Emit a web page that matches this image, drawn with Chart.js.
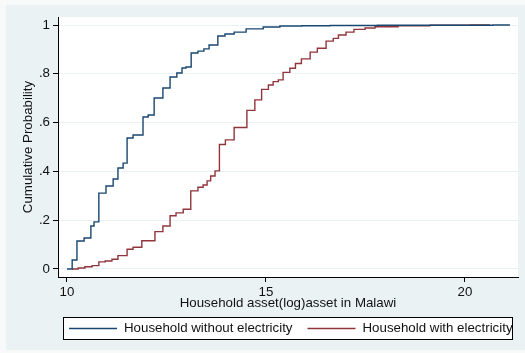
<!DOCTYPE html>
<html>
<head>
<meta charset="utf-8">
<style>
  html, body { margin: 0; padding: 0; background: #ffffff; }
  canvas { display: block; }
</style>
<script src="https://cdn.jsdelivr.net/npm/chart.js@4/dist/chart.umd.min.js"></script>
</head>
<body>
<canvas id="cdf" width="525" height="353"></canvas>
<script>
// Empirical CDF of log household assets, by electricity access
const withoutElecAsset = [10.00, 10.13, 10.25, 10.43, 10.60, 10.68, 10.80, 10.98, 11.16, 11.28, 11.41, 11.51, 11.66, 11.91, 12.04, 12.19, 12.41, 12.59, 12.76, 12.89, 12.99, 13.12, 13.29, 13.44, 13.57, 13.79, 13.97, 14.20, 14.50, 14.93, 15.35, 15.90, 16.61, 17.80, 20.70, 21.13];
const withoutElecCdf   = [0, 0.037, 0.115, 0.127, 0.176, 0.193, 0.311, 0.340, 0.369, 0.414, 0.434, 0.537, 0.549, 0.623, 0.631, 0.701, 0.742, 0.787, 0.803, 0.824, 0.828, 0.885, 0.893, 0.902, 0.918, 0.955, 0.963, 0.971, 0.984, 0.992, 0.996, 0.997, 0.998, 0.999, 1.0, 1.0];

const withElecAsset = [10.13, 10.28, 10.45, 10.63, 10.80, 10.96, 11.13, 11.28, 11.51, 11.66, 11.88, 12.21, 12.41, 12.59, 12.74, 12.92, 13.11, 13.29, 13.42, 13.52, 13.61, 13.72, 13.83, 13.98, 14.20, 14.52, 14.72, 14.89, 15.06, 15.18, 15.31, 15.43, 15.60, 15.74, 15.89, 16.11, 16.29, 16.51, 16.69, 16.82, 17.01, 17.21, 17.49, 17.74, 18.32, 19.12, 20.13, 20.63];
const withElecCdf   = [0, 0.004, 0.009, 0.014, 0.029, 0.033, 0.040, 0.055, 0.081, 0.089, 0.116, 0.153, 0.176, 0.218, 0.230, 0.245, 0.320, 0.335, 0.344, 0.361, 0.381, 0.402, 0.510, 0.529, 0.580, 0.650, 0.693, 0.736, 0.754, 0.768, 0.775, 0.806, 0.823, 0.842, 0.861, 0.889, 0.905, 0.934, 0.945, 0.959, 0.971, 0.982, 0.988, 0.993, 0.997, 0.999, 1.0, 1.0];

const seriesNames = ['Household without electricity', 'Household with electricity'];
const xTickValues = [10, 15, 20];
const yTickValues = [0, 0.2, 0.4, 0.6, 0.8, 1];
const yTickLabels = ['0', '.2', '.4', '.6', '.8', '1'];
const xTitle = 'Household asset(log)asset in Malawi';
const yTitle = 'Cumulative Probability';

const FONT = "'Liberation Sans', Arial, sans-serif";
const INK = '#111111';
const BLUE = '#1a476f';
const RED = '#90353b';
const REGION = '#eaf2f3';

const toPoints = (xs, ys) => xs.map((x, i) => ({ x: x, y: ys[i] }));

// Graph region and white plot region behind the chart
const backdrop = {
  id: 'backdrop',
  beforeDraw(chart) {
    const { ctx, chartArea: a } = chart;
    ctx.save();
    ctx.fillStyle = '#f8fafa';
    ctx.fillRect(0, 0, chart.width, chart.height);
    ctx.fillStyle = REGION;
    ctx.fillRect(6, 5, chart.width - 6, 345);
    ctx.fillStyle = '#ffffff';
    ctx.fillRect(a.left, a.top, a.right - a.left, a.bottom - a.top);
    ctx.restore();
  }
};

// Boxed legend below the axis title
const boxedLegend = {
  id: 'boxedLegend',
  afterDraw(chart) {
    const { ctx } = chart;
    ctx.save();
    ctx.fillStyle = '#ffffff';
    ctx.fillRect(63.5, 317.5, 449, 22);
    ctx.strokeStyle = '#000000';
    ctx.lineWidth = 1;
    ctx.strokeRect(63.5, 317.5, 449, 22);
    ctx.font = '13.3px ' + FONT;
    ctx.textBaseline = 'middle';
    ctx.textAlign = 'left';
    let x = 69;
    const y = 328.5;
    chart.data.datasets.forEach(ds => {
      ctx.strokeStyle = ds.borderColor;
      ctx.lineWidth = 1.3;
      ctx.beginPath();
      ctx.moveTo(x, y);
      ctx.lineTo(x + 48, y);
      ctx.stroke();
      ctx.fillStyle = INK;
      ctx.fillText(ds.label, x + 55, y);
      x += 55 + ctx.measureText(ds.label).width + 15;
    });
    ctx.restore();
  }
};

new Chart(document.getElementById('cdf'), {
  type: 'line',
  data: {
    datasets: [
      {
        label: seriesNames[0],
        data: toPoints(withoutElecAsset, withoutElecCdf),
        borderColor: BLUE,
        borderWidth: 1.4,
        stepped: 'before',
        pointRadius: 0,
        fill: false
      },
      {
        label: seriesNames[1],
        data: toPoints(withElecAsset, withElecCdf),
        borderColor: RED,
        borderWidth: 1.4,
        stepped: 'before',
        pointRadius: 0,
        fill: false
      }
    ]
  },
  options: {
    responsive: false,
    animation: false,
    devicePixelRatio: 1,
    layout: { padding: { left: 0, top: 17, right: 7, bottom: 40 } },
    plugins: {
      legend: { display: false },
      tooltip: { enabled: false }
    },
    scales: {
      x: {
        type: 'linear',
        min: 9.774,
        max: 21.332,
        afterBuildTicks(scale) { scale.ticks = xTickValues.map(v => ({ value: v })); },
        afterFit(scale) { scale.height = 36; },
        ticks: {
          color: INK,
          font: { family: FONT, size: 13.3 },
          padding: 2,
          maxRotation: 0,
          callback: v => String(v)
        },
        grid: { display: true, drawOnChartArea: false, tickLength: 5, tickColor: '#000000' },
        border: { display: true, color: '#000000', width: 1 },
        title: {
          display: true,
          text: xTitle,
          color: INK,
          font: { family: FONT, size: 13.3 },
          padding: { top: 0, bottom: 2 }
        }
      },
      y: {
        type: 'linear',
        min: -0.0328,
        max: 1.0328,
        afterBuildTicks(scale) { scale.ticks = yTickValues.map(v => ({ value: v })); },
        afterFit(scale) { scale.width = 58; },
        ticks: {
          color: INK,
          font: { family: FONT, size: 13.3 },
          padding: 3,
          callback: (v, i) => yTickLabels[i]
        },
        grid: { display: true, color: REGION, lineWidth: 1, tickLength: 5, tickColor: '#000000' },
        border: { display: true, color: '#000000', width: 1 },
        title: {
          display: true,
          text: yTitle,
          color: INK,
          font: { family: FONT, size: 13.3 },
          padding: { top: 20, bottom: 0 }
        }
      }
    }
  },
  plugins: [backdrop, boxedLegend]
});
</script>
</body>
</html>
